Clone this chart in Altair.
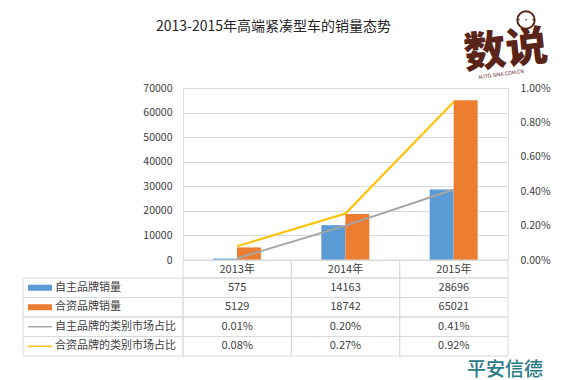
import altair as alt
import pandas as pd

FONT = "Noto Sans CJK SC"

title_text = "2013-2015年高端紧凑型车的销量态势"
years = ["2013年", "2014年", "2015年"]
series = ["自主品牌销量", "合资品牌销量", "自主品牌的类别市场占比", "合资品牌的类别市场占比"]
colors = ["#5b9bd5", "#ed7d31", "#a5a5a5", "#ffc000"]
domestic_sales = [575, 14163, 28696]
jv_sales = [5129, 18742, 65021]
domestic_share = [0.0001, 0.0020, 0.0041]
jv_share = [0.0008, 0.0027, 0.0092]
left_ticks = [0, 10000, 20000, 30000, 40000, 50000, 60000, 70000]
right_ticks = [0, 0.002, 0.004, 0.006, 0.008, 0.01]

bars_df = pd.DataFrame({
    "year": years * 2,
    "series": [series[0]] * 3 + [series[1]] * 3,
    "value": domestic_sales + jv_sales,
})
lines_df = pd.DataFrame({
    "year": years * 2,
    "series": [series[2]] * 3 + [series[3]] * 3,
    "share": domestic_share + jv_share,
})
rows = []
for name, vals, is_share in [
    (series[0], domestic_sales, False),
    (series[1], jv_sales, False),
    (series[2], domestic_share, True),
    (series[3], jv_share, True),
]:
    for y, v in zip(years, vals):
        rows.append({"row": name, "year": y,
                     "text": f"{v * 100:.2f}%" if is_share else str(v)})
table_df = pd.DataFrame(rows)
labels_df = pd.DataFrame({"row": series})
years_df = pd.DataFrame({"year": years})

GRID = "#d9d9d9"
TXT = "#404040"

x_enc = alt.X("year:N", sort=years,
              scale=alt.Scale(domain=years, paddingInner=0, paddingOuter=0),
              axis=alt.Axis(title=None, labels=False, domain=True, domainColor=GRID,
                            ticks=False, tickBand="extent",
                            grid=True, gridColor=GRID))
x_plain = alt.X("year:N", sort=years,
                scale=alt.Scale(domain=years, paddingInner=0, paddingOuter=0), axis=None)
color_enc = alt.Color("series:N", scale=alt.Scale(domain=series, range=colors), legend=None)
row_scale = alt.Scale(domain=series, range=[190, 268], paddingInner=0, paddingOuter=0)

bars = alt.Chart(bars_df).mark_bar().encode(
    x=x_enc,
    xOffset=alt.XOffset("series:N", scale=alt.Scale(domain=series[:2], range=[30, 78],
                                                     paddingInner=0, paddingOuter=0)),
    y=alt.Y("value:Q", scale=alt.Scale(domain=[0, 70000], nice=False),
            axis=alt.Axis(title=None, values=left_ticks, format="d", labelFontSize=10.5,
                          labelPadding=11, ticks=False, domain=False, grid=True,
                          gridColor=GRID, labelColor=TXT, labelFont=FONT)),
    color=color_enc,
)

lines = alt.Chart(lines_df).mark_line(strokeWidth=2).encode(
    x=x_plain,
    y=alt.Y("share:Q", scale=alt.Scale(domain=[0, 0.01], nice=False),
            axis=alt.Axis(orient="right", title=None, values=right_ticks, format=".2%",
                          labelFontSize=10.5, labelPadding=12, ticks=False, domain=False,
                          grid=False, labelColor=TXT, labelFont=FONT)),
    color=color_enc,
)

header_cells = alt.Chart(years_df).mark_rect(fillOpacity=0, stroke=GRID, strokeWidth=1).encode(
    x=x_plain, y=alt.value(172), y2=alt.value(190),
)
header_text = alt.Chart(years_df).mark_text(fontSize=11, font=FONT, color=TXT,
                                            baseline="middle").encode(
    x=x_plain, y=alt.value(181.5), text="year:N",
)
cells = alt.Chart(table_df).mark_rect(fillOpacity=0, stroke=GRID, strokeWidth=1).encode(
    x=x_plain,
    y=alt.Y("row:N", scale=row_scale, axis=None),
)
label_cells = alt.Chart(labels_df).mark_rect(fillOpacity=0, stroke=GRID, strokeWidth=1).encode(
    x=alt.value(-160), x2=alt.value(0),
    y=alt.Y("row:N", scale=row_scale, axis=None),
)
values_text = alt.Chart(table_df).mark_text(fontSize=11, font=FONT, color=TXT).encode(
    x=x_plain,
    y=alt.Y("row:N", scale=row_scale, axis=None),
    text="text:N",
)
labels_text = alt.Chart(labels_df).mark_text(fontSize=11, font=FONT, color=TXT, align="left").encode(
    x=alt.value(-128),
    y=alt.Y("row:N", scale=row_scale, axis=None),
    text="row:N",
)
rect_path = "M-1,-0.25H1V0.25H-1Z"
line_path = "M-1,-0.06H1V0.06H-1Z"
swatches = alt.Chart(labels_df.rename(columns={"row": "series"})).mark_point(
    filled=True, size=576, opacity=1, strokeWidth=0).encode(
    x=alt.value(-143),
    y=alt.Y("series:N", scale=row_scale, axis=None),
    color=color_enc,
    shape=alt.Shape("series:N", scale=alt.Scale(domain=series,
                    range=[rect_path, rect_path, line_path, line_path]), legend=None),
)

one = pd.DataFrame({"k": [0]})
title = alt.Chart(one).mark_text(text=title_text, fontSize=14, font=FONT, color="#262626",
                                 align="left", baseline="middle").encode(
    x=alt.value(-27), y=alt.value(-61))
logo = alt.Chart(one).mark_text(text="数说", fontSize=42, font=FONT, fontWeight=900,
                                color="#5a2418", angle=354, baseline="middle").encode(
    x=alt.value(323), y=alt.value(-37))
bubble = alt.Chart(one).mark_point(shape="circle", size=300, filled=True, fill="white",
                                   stroke="#5a2418", strokeWidth=2, opacity=1).encode(
    x=alt.value(343), y=alt.value(-68))
bubble_dots = alt.Chart(one).mark_text(text="•••", fontSize=7, font=FONT, color="#5a2418",
                                       baseline="middle").encode(
    x=alt.value(343), y=alt.value(-68))
logo_sub = alt.Chart(one).mark_text(text="AUTO.SINA.COM.CN", fontSize=5, font=FONT,
                                    color="#5a2418", angle=352, baseline="middle").encode(
    x=alt.value(318), y=alt.value(-14))
brand = alt.Chart(one).mark_text(text="平安信德", fontSize=19, font=FONT, fontWeight=500,
                                 color="#2a7b86", baseline="middle").encode(
    x=alt.value(322), y=alt.value(282))

chart = alt.layer(
    bars, lines, header_cells, header_text, cells, label_cells, values_text, labels_text,
    swatches, title, logo, bubble, bubble_dots, logo_sub, brand,
).resolve_scale(y="independent").properties(
    width=325, height=172,
    padding={"left": 175, "top": 80, "right": 54, "bottom": 120},
    autosize=alt.AutoSizeParams(type="none"),
    background="white",
).configure_view(fill="#f4f4f4", stroke=GRID).configure(font=FONT)

chart.save("out.html", embed_options={"renderer": "svg", "actions": False})
